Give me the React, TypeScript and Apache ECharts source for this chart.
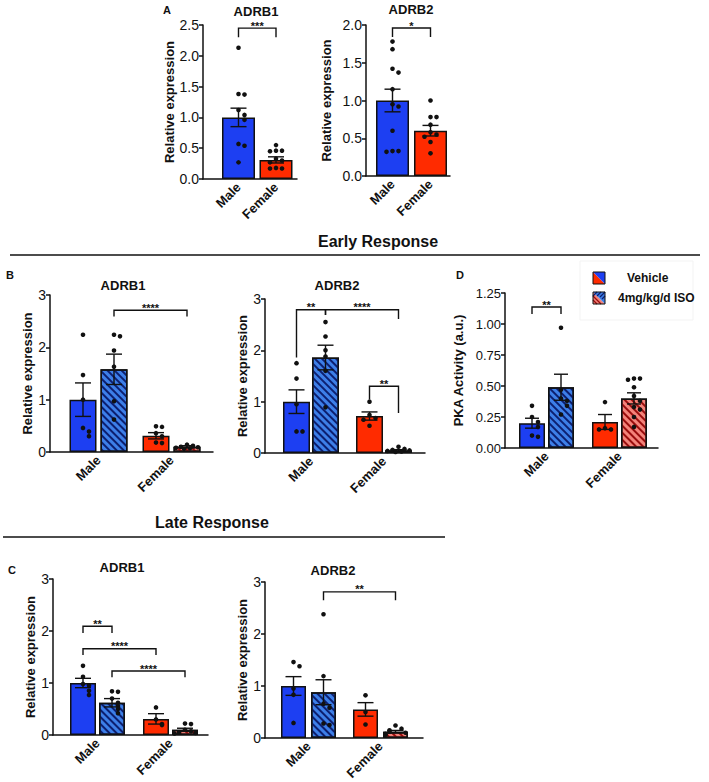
import React, { useEffect, useRef } from 'react';
import * as echarts from 'echarts';

const CATEGORIES = ['Male', 'Female'];
const Y_NAME_REL = 'Relative expression';
const Y_NAME_PKA = 'PKA Activity (a.u.)';
const LEGEND_LABELS = ['Vehicle', '4mg/kg/d ISO'];

// ---------- Panel A: ADRB1 ----------
const A1_MEAN = [1.0, 0.31];
const A1_SEM = [0.15, 0.05];
const A1_MALE_PTS = [2.13, 1.38, 1.37, 1.12, 1.04, 0.96, 0.57, 0.54, 0.27];
const A1_FEMALE_PTS = [0.55, 0.46, 0.46, 0.45, 0.33, 0.3, 0.27, 0.18, 0.17, 0.17];
const A1_SIG = [[0, 1, 2.45, 2.3, 2.3]];
const A1_SIG_LABELS = ['***'];

// ---------- Panel A: ADRB2 ----------
const A2_MEAN = [1.0, 0.6];
const A2_SEM = [0.15, 0.07];
const A2_MALE_PTS = [1.78, 1.68, 1.42, 1.37, 1.15, 0.95, 0.92, 0.6, 0.33, 0.33, 0.32];
const A2_FEMALE_PTS = [1.0, 0.78, 0.78, 0.68, 0.58, 0.55, 0.52, 0.45, 0.3];
const A2_SIG = [[0, 1, 1.96, 1.84, 1.84]];
const A2_SIG_LABELS = ['*'];

// ---------- Panel B: Early ADRB1 ----------
const B1_VEH_MEAN = [1.0, 0.31];
const B1_VEH_SEM = [0.32, 0.06];
const B1_ISO_MEAN = [1.58, 0.1];
const B1_ISO_SEM = [0.29, 0.02];
const B1_MALE_VEH_PTS = [2.24, 1.47, 1.0, 0.46, 0.39, 0.3];
const B1_MALE_ISO_PTS = [2.24, 2.21, 1.94, 1.63, 0.97, 0.62];
const B1_FEMALE_VEH_PTS = [0.49, 0.48, 0.36, 0.3, 0.18, 0.17];
const B1_FEMALE_ISO_PTS = [0.14, 0.12, 0.1, 0.09, 0.08, 0.07, 0.06];
const B1_SIG = [[1, 3, 2.71, 2.59, 2.59]];
const B1_SIG_LABELS = ['****'];

// ---------- Panel B: Early ADRB2 ----------
const B2_VEH_MEAN = [1.0, 0.72];
const B2_VEH_SEM = [0.23, 0.08];
const B2_ISO_MEAN = [1.86, 0.05];
const B2_ISO_SEM = [0.24, 0.015];
const B2_MALE_VEH_PTS = [1.75, 1.45, 0.95, 0.42, 0.42];
const B2_MALE_ISO_PTS = [2.55, 2.27, 2.0, 1.88, 1.6, 0.89];
const B2_FEMALE_VEH_PTS = [1.0, 0.74, 0.68, 0.65, 0.53];
const B2_FEMALE_ISO_PTS = [0.12, 0.08, 0.06, 0.05, 0.04, 0.03, 0.02];
const B2_SIG = [
  [0, 1, 2.79, 1.86, 2.69],
  [1, 3, 2.79, 2.69, 2.61],
  [2, 3, 1.3, 1.04, 0.78],
];
const B2_SIG_LABELS = ['**', '****', '**'];

// ---------- Panel D: PKA activity ----------
const D_VEH_MEAN = [0.2, 0.21];
const D_VEH_SEM = [0.04, 0.06];
const D_ISO_MEAN = [0.49, 0.4];
const D_ISO_SEM = [0.105, 0.045];
const D_MALE_VEH_PTS = [0.34, 0.25, 0.21, 0.17, 0.1, 0.09];
const D_MALE_ISO_PTS = [0.97, 0.47, 0.4, 0.38, 0.34, 0.27];
const D_FEMALE_VEH_PTS = [0.37, 0.16, 0.15, 0.15];
const D_FEMALE_ISO_PTS = [0.56, 0.56, 0.55, 0.49, 0.42, 0.38, 0.33, 0.31, 0.25, 0.17];
const D_SIG = [[0, 1, 1.137, 1.08, 1.08]];
const D_SIG_LABELS = ['**'];

// ---------- Panel C: Late ADRB1 ----------
const C1_VEH_MEAN = [1.0, 0.31];
const C1_VEH_SEM = [0.09, 0.1];
const C1_ISO_MEAN = [0.62, 0.1];
const C1_ISO_SEM = [0.08, 0.03];
const C1_MALE_VEH_PTS = [1.33, 1.12, 0.98, 0.95, 0.85, 0.77];
const C1_MALE_ISO_PTS = [0.84, 0.83, 0.7, 0.62, 0.56, 0.5, 0.42];
const C1_FEMALE_VEH_PTS = [0.53, 0.3, 0.21, 0.19];
const C1_FEMALE_ISO_PTS = [0.22, 0.21, 0.1, 0.07, 0.05, 0.04, 0.03];
const C1_SIG = [
  [0, 1, 2.09, 1.96, 1.96],
  [0, 2, 1.66, 1.54, 1.54],
  [1, 3, 1.23, 1.11, 1.11],
];
const C1_SIG_LABELS = ['**', '****', '****'];

// ---------- Panel C: Late ADRB2 ----------
const C2_VEH_MEAN = [1.0, 0.55];
const C2_VEH_SEM = [0.18, 0.13];
const C2_ISO_MEAN = [0.88, 0.12];
const C2_ISO_SEM = [0.24, 0.025];
const C2_MALE_VEH_PTS = [1.46, 1.38, 0.95, 0.83, 0.29];
const C2_MALE_ISO_PTS = [2.38, 1.19, 0.66, 0.58, 0.28, 0.25];
const C2_FEMALE_VEH_PTS = [0.82, 0.5, 0.26];
const C2_FEMALE_ISO_PTS = [0.24, 0.18, 0.15, 0.12, 0.1, 0.08, 0.06];
const C2_SIG = [[1, 3, 2.81, 2.65, 2.65]];
const C2_SIG_LABELS = ['**'];

// ---------- styling ----------
const FONT = '"Liberation Sans", Arial, Helvetica, sans-serif';
const INK = '#111111';
const BLUE = '#1d3ff2';
const RED = '#ff2b00';
const BLUE_H = '#3d7fe8';
const BLUE_STRIPE = '#0c1f70';
const RED_H = '#f4837a';
const RED_STRIPE = '#9a0d0d';

type Panel = {
  axisX: number; axisEnd: number; top: number; bottom: number;
  bandLeft: number; bandRight: number;
  yMax: number; yInt: number; dec: number; yName: string; nameGap: number; labelSize: number;
  barWidth: number; gap: number; paired: boolean; capHalf: number;
  vehMean: number[]; vehSem: number[]; isoMean?: number[]; isoSem?: number[];
  pts: number[][]; sig: number[][]; sigLabels: string[];
};

const PANELS: Panel[] = [
  { axisX: 203, axisEnd: 297, top: 25, bottom: 179, bandLeft: 219.75, bandRight: 294.75,
    yMax: 2.5, yInt: 0.5, dec: 1, yName: Y_NAME_REL, nameGap: 24, labelSize: 14,
    barWidth: 33, gap: 0, paired: false, capHalf: 8,
    vehMean: A1_MEAN, vehSem: A1_SEM, pts: [A1_MALE_PTS, A1_FEMALE_PTS], sig: A1_SIG, sigLabels: A1_SIG_LABELS },
  { axisX: 366, axisEnd: 450, top: 25, bottom: 176, bandLeft: 373.5, bandRight: 449.5,
    yMax: 2.0, yInt: 0.5, dec: 1, yName: Y_NAME_REL, nameGap: 33, labelSize: 14,
    barWidth: 33, gap: 0, paired: false, capHalf: 8,
    vehMean: A2_MEAN, vehSem: A2_SEM, pts: [A2_MALE_PTS, A2_FEMALE_PTS], sig: A2_SIG, sigLabels: A2_SIG_LABELS },
  { axisX: 50, axisEnd: 213, top: 295, bottom: 452, bandLeft: 62, bandRight: 208,
    yMax: 3, yInt: 1, dec: 0, yName: Y_NAME_REL, nameGap: 9, labelSize: 14,
    barWidth: 27, gap: 4, paired: true, capHalf: 8,
    vehMean: B1_VEH_MEAN, vehSem: B1_VEH_SEM, isoMean: B1_ISO_MEAN, isoSem: B1_ISO_SEM,
    pts: [B1_MALE_VEH_PTS, B1_MALE_ISO_PTS, B1_FEMALE_VEH_PTS, B1_FEMALE_ISO_PTS], sig: B1_SIG, sigLabels: B1_SIG_LABELS },
  { axisX: 265, axisEnd: 425, top: 299, bottom: 453, bandLeft: 274.5, bandRight: 420.5,
    yMax: 3, yInt: 1, dec: 0, yName: Y_NAME_REL, nameGap: 9, labelSize: 14,
    barWidth: 27, gap: 2, paired: true, capHalf: 8,
    vehMean: B2_VEH_MEAN, vehSem: B2_VEH_SEM, isoMean: B2_ISO_MEAN, isoSem: B2_ISO_SEM,
    pts: [B2_MALE_VEH_PTS, B2_MALE_ISO_PTS, B2_FEMALE_VEH_PTS, B2_FEMALE_ISO_PTS], sig: B2_SIG, sigLabels: B2_SIG_LABELS },
  { axisX: 505, axisEnd: 658, top: 293, bottom: 448, bandLeft: 510, bandRight: 656,
    yMax: 1.25, yInt: 0.25, dec: 2, yName: Y_NAME_PKA, nameGap: 40, labelSize: 13,
    barWidth: 26, gap: 3, paired: true, capHalf: 7,
    vehMean: D_VEH_MEAN, vehSem: D_VEH_SEM, isoMean: D_ISO_MEAN, isoSem: D_ISO_SEM,
    pts: [D_MALE_VEH_PTS, D_MALE_ISO_PTS, D_FEMALE_VEH_PTS, D_FEMALE_ISO_PTS], sig: D_SIG, sigLabels: D_SIG_LABELS },
  { axisX: 53, axisEnd: 208, top: 579, bottom: 735, bandLeft: 61, bandRight: 207,
    yMax: 3, yInt: 1, dec: 0, yName: Y_NAME_REL, nameGap: 11, labelSize: 14,
    barWidth: 26, gap: 3, paired: true, capHalf: 8,
    vehMean: C1_VEH_MEAN, vehSem: C1_VEH_SEM, isoMean: C1_ISO_MEAN, isoSem: C1_ISO_SEM,
    pts: [C1_MALE_VEH_PTS, C1_MALE_ISO_PTS, C1_FEMALE_VEH_PTS, C1_FEMALE_ISO_PTS], sig: C1_SIG, sigLabels: C1_SIG_LABELS },
  { axisX: 265, axisEnd: 423, top: 582, bottom: 738, bandLeft: 272.5, bandRight: 416.5,
    yMax: 3, yInt: 1, dec: 0, yName: Y_NAME_REL, nameGap: 10, labelSize: 14,
    barWidth: 25, gap: 5, paired: true, capHalf: 8,
    vehMean: C2_VEH_MEAN, vehSem: C2_VEH_SEM, isoMean: C2_ISO_MEAN, isoSem: C2_ISO_SEM,
    pts: [C2_MALE_VEH_PTS, C2_MALE_ISO_PTS, C2_FEMALE_VEH_PTS, C2_FEMALE_ISO_PTS], sig: C2_SIG, sigLabels: C2_SIG_LABELS },
];

const JITTER = [0, 6, -6, 11, -11, 3, -3, 9, -9, 1.5, -1.5];

function stripe(color: string) {
  return { symbol: 'rect', symbolSize: 1, dashArrayX: [1, 0], dashArrayY: [1.6, 2.8], rotation: Math.PI / 4, color };
}

function buildOption() {
  const grid: any[] = [];
  const xAxis: any[] = [];
  const yAxis: any[] = [];
  const series: any[] = [];

  PANELS.forEach((p, k) => {
    const gf = 2 * k;
    const gb = 2 * k + 1;
    const h = p.bottom - p.top;
    grid.push({ left: p.axisX, top: p.top, width: p.axisEnd - p.axisX, height: h, outerBoundsMode: 'none' });
    grid.push({ left: p.bandLeft, top: p.top, width: p.bandRight - p.bandLeft, height: h, outerBoundsMode: 'none' });
    xAxis.push({
      type: 'value', gridIndex: gf, min: 0, max: 1,
      axisLine: { show: true, onZero: false, lineStyle: { color: INK, width: 1.5 } },
      axisTick: { show: false }, axisLabel: { show: false }, splitLine: { show: false },
    });
    yAxis.push({ type: 'value', gridIndex: gf, min: 0, max: 1, show: false });
    xAxis.push({
      type: 'category', gridIndex: gb, data: CATEGORIES,
      axisLine: { show: false }, axisTick: { show: false }, splitLine: { show: false },
      axisLabel: { interval: 0, rotate: 45, margin: 6, color: INK, fontFamily: FONT, fontWeight: 'bold', fontSize: 13 },
    });
    yAxis.push({
      type: 'value', gridIndex: gb, min: 0, max: p.yMax, interval: p.yInt,
      offset: p.bandLeft - p.axisX,
      axisLine: { show: true, lineStyle: { color: INK, width: 1.5 } },
      axisTick: { show: true, length: 4, lineStyle: { color: INK, width: 1.5 } },
      axisLabel: { margin: 4, color: INK, fontFamily: FONT, fontSize: p.labelSize, formatter: (v: number) => v.toFixed(p.dec) },
      splitLine: { show: false },
      name: p.yName, nameLocation: 'middle', nameGap: p.nameGap,
      nameTextStyle: { color: INK, fontFamily: FONT, fontWeight: 'bold', fontSize: 13 },
    });

    const half = p.paired ? (p.barWidth + p.gap) / 2 : 0;
    const slotPos = (s: number) => (p.paired ? { cat: Math.floor(s / 2), dx: s % 2 === 0 ? -half : half } : { cat: s, dx: 0 });
    const barGap = p.paired ? `${(p.gap / p.barWidth) * 100}%` : '0%';

    series.push({
      type: 'bar', xAxisIndex: gb, yAxisIndex: gb, barWidth: p.barWidth, barGap, z: 2,
      itemStyle: { borderColor: INK, borderWidth: 1.5 },
      data: p.vehMean.map((v, i) => ({ value: v, itemStyle: { color: i === 0 ? BLUE : RED } })),
    });
    if (p.paired && p.isoMean) {
      series.push({
        type: 'bar', xAxisIndex: gb, yAxisIndex: gb, barWidth: p.barWidth, barGap, z: 2,
        itemStyle: { borderColor: INK, borderWidth: 1.5 },
        data: p.isoMean.map((v, i) => ({
          value: v,
          itemStyle: { color: i === 0 ? BLUE_H : RED_H, decal: stripe(i === 0 ? BLUE_STRIPE : RED_STRIPE) },
        })),
      });
    }

    // error bars
    const errData: number[][] = [];
    const means: number[] = [];
    const sems: number[] = [];
    if (p.paired && p.isoMean && p.isoSem) {
      for (let c = 0; c < 2; c++) {
        means.push(p.vehMean[c], p.isoMean[c]);
        sems.push(p.vehSem[c], p.isoSem[c]);
      }
    } else {
      means.push(...p.vehMean);
      sems.push(...p.vehSem);
    }
    means.forEach((m, s) => {
      const sp = slotPos(s);
      errData.push([sp.cat, m, sems[s], sp.dx]);
    });
    series.push({
      type: 'custom', xAxisIndex: gb, yAxisIndex: gb, z: 5, silent: true,
      data: errData,
      renderItem: (_params: any, api: any) => {
        const cat = api.value(0), m = api.value(1), s = api.value(2), dx = api.value(3);
        const hi = api.coord([cat, m + s]);
        const lo = api.coord([cat, m - s]);
        const x = hi[0] + dx;
        const st = { stroke: INK, lineWidth: 1.4 };
        return {
          type: 'group',
          children: [
            { type: 'line', shape: { x1: x, y1: hi[1], x2: x, y2: lo[1] }, style: st },
            { type: 'line', shape: { x1: x - p.capHalf, y1: hi[1], x2: x + p.capHalf, y2: hi[1] }, style: st },
            { type: 'line', shape: { x1: x - p.capHalf, y1: lo[1], x2: x + p.capHalf, y2: lo[1] }, style: st },
          ],
        };
      },
    });

    // dots
    const dotData: number[][] = [];
    const thr = p.yMax * 0.035;
    const maxOff = p.barWidth / 2 - 2.5;
    p.pts.forEach((arr, s) => {
      const sp = slotPos(s);
      arr.forEach((v, i) => {
        let cnt = 0;
        for (let j = 0; j < i; j++) if (Math.abs(arr[j] - v) < thr) cnt++;
        let off = JITTER[cnt % JITTER.length];
        if (off > maxOff) off = maxOff;
        if (off < -maxOff) off = -maxOff;
        dotData.push([sp.cat, v, sp.dx + off]);
      });
    });
    series.push({
      type: 'custom', xAxisIndex: gb, yAxisIndex: gb, z: 6, silent: true,
      data: dotData,
      renderItem: (_params: any, api: any) => {
        const c = api.coord([api.value(0), api.value(1)]);
        return { type: 'circle', shape: { cx: c[0] + api.value(2), cy: c[1], r: 2.3 }, style: { fill: INK } };
      },
    });

    // significance brackets
    series.push({
      type: 'custom', xAxisIndex: gb, yAxisIndex: gb, z: 7, silent: true,
      data: p.sig.map((s) => [s[0], s[2]]),
      renderItem: (params: any, api: any) => {
        const s = p.sig[params.dataIndex];
        const a = slotPos(s[0]);
        const b = slotPos(s[1]);
        const pa = api.coord([a.cat, s[2]]);
        const pb = api.coord([b.cat, s[2]]);
        const xa = pa[0] + a.dx;
        const xb = pb[0] + b.dx;
        const yt = pa[1];
        const ya = api.coord([a.cat, s[3]])[1];
        const yb = api.coord([b.cat, s[4]])[1];
        const st = { stroke: INK, lineWidth: 1.4, fill: 'none' };
        return {
          type: 'group',
          children: [
            { type: 'polyline', shape: { points: [[xa, ya], [xa, yt], [xb, yt], [xb, yb]] }, style: st },
            {
              type: 'text', x: (xa + xb) / 2, y: yt + 3,
              style: { text: p.sigLabels[params.dataIndex], fill: INK, font: `bold 11px ${FONT}`, align: 'center', verticalAlign: 'bottom' },
            },
          ],
        };
      },
    });
  });

  const txt = (text: string, x: number, y: number, size: number) => ({
    type: 'text', x, y,
    style: { text, fill: INK, font: `bold ${size}px ${FONT}`, align: 'center', verticalAlign: 'middle' },
  });

  const graphic: any[] = [
    txt('A', 167, 10, 11),
    txt('ADRB1', 256, 11, 13),
    txt('ADRB2', 411, 9, 13),
    txt('Early Response', 378, 241, 16),
    { type: 'line', shape: { x1: 10, y1: 255, x2: 700, y2: 255 }, style: { stroke: INK, lineWidth: 1.5 } },
    txt('B', 10, 275, 11),
    txt('ADRB1', 123, 285, 13),
    txt('ADRB2', 337, 285, 13),
    txt('D', 460, 275, 11),
    txt('Late Response', 212, 522, 16),
    { type: 'line', shape: { x1: 3, y1: 537, x2: 445, y2: 537 }, style: { stroke: INK, lineWidth: 1.5 } },
    txt('C', 12, 570, 11),
    txt('ADRB1', 122, 567, 13),
    txt('ADRB2', 333, 570, 13),
    // legend box (very faint)
    { type: 'rect', shape: { x: 580, y: 261, width: 113, height: 59 }, style: { fill: 'none', stroke: '#f3f3f3', lineWidth: 1 } },
    // vehicle icon
    { type: 'polygon', shape: { points: [[593, 272], [593, 284], [605, 284]] }, style: { fill: RED } },
    { type: 'polygon', shape: { points: [[593, 272], [605, 272], [605, 284]] }, style: { fill: BLUE } },
    { type: 'rect', shape: { x: 593, y: 272, width: 12, height: 12 }, style: { fill: 'none', stroke: INK, lineWidth: 1 } },
    // ISO icon
    { type: 'polygon', shape: { points: [[593, 292], [593, 304], [605, 304]] }, style: { fill: RED_H } },
    { type: 'polygon', shape: { points: [[593, 292], [605, 292], [605, 304]] }, style: { fill: BLUE_H } },
    { type: 'line', shape: { x1: 593, y1: 300, x2: 597, y2: 304 }, style: { stroke: RED_STRIPE, lineWidth: 1.2 } },
    { type: 'line', shape: { x1: 593, y1: 296, x2: 601, y2: 304 }, style: { stroke: RED_STRIPE, lineWidth: 1.2 } },
    { type: 'line', shape: { x1: 597, y1: 292, x2: 593, y2: 296 }, style: { stroke: BLUE_STRIPE, lineWidth: 1.2 } },
    { type: 'line', shape: { x1: 601, y1: 292, x2: 597, y2: 296 }, style: { stroke: BLUE_STRIPE, lineWidth: 1.2 } },
    { type: 'line', shape: { x1: 605, y1: 292, x2: 600, y2: 297 }, style: { stroke: BLUE_STRIPE, lineWidth: 1.2 } },
    { type: 'line', shape: { x1: 605, y1: 296, x2: 602, y2: 299 }, style: { stroke: BLUE_STRIPE, lineWidth: 1.2 } },
    { type: 'rect', shape: { x: 593, y: 292, width: 12, height: 12 }, style: { fill: 'none', stroke: INK, lineWidth: 1 } },
    {
      type: 'text', x: 627, y: 278,
      style: { text: LEGEND_LABELS[0], fill: INK, font: `bold 12px ${FONT}`, align: 'left', verticalAlign: 'middle' },
    },
    {
      type: 'text', x: 618, y: 298,
      style: { text: LEGEND_LABELS[1], fill: INK, font: `bold 12px ${FONT}`, align: 'left', verticalAlign: 'middle' },
    },
  ];

  return {
    animation: false,
    backgroundColor: '#ffffff',
    textStyle: { fontFamily: FONT },
    grid,
    xAxis,
    yAxis,
    series,
    graphic,
  };
}

export default function App() {
  const ref = useRef<HTMLDivElement>(null);
  useEffect(() => {
    if (!ref.current) return;
    const chart = echarts.init(ref.current, null, { renderer: 'svg' });
    chart.setOption(buildOption() as any);
    return () => chart.dispose();
  }, []);
  return (
    <div
      ref={ref}
      style={{ position: 'absolute', left: 0, top: 0, width: 709, height: 782, background: '#ffffff' }}
    />
  );
}
